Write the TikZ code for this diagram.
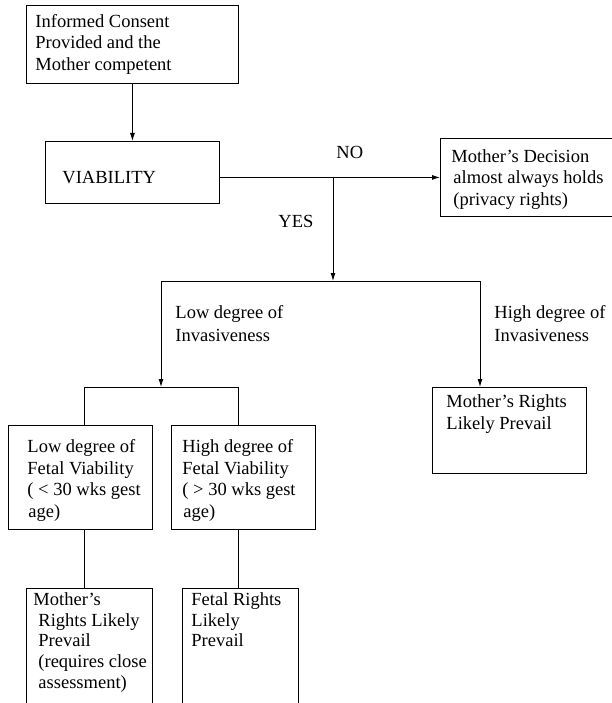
\documentclass[tikz,border=0pt]{standalone}
\usepackage{fontspec}
\setmainfont{Liberation Serif}
\usetikzlibrary{arrows.meta}
% width, height, left pad, top gap, text
\newcommand{\boxtext}[5]{\parbox[t][#2pt][t]{#1pt}{\raggedright\leftskip=#3pt\relax\vspace*{#4pt}\strut#5}}
\begin{document}
\begin{tikzpicture}[x=1pt, y=-1pt, line width=0.9pt,
    every node/.style={font=\fontsize{18.5}{21.5}\selectfont},
    box/.style={draw, anchor=north west, inner sep=0pt},
    lbl/.style={anchor=base west, inner sep=0pt},
    arr/.style={-{Latex[length=8pt,width=5pt]}}]
  \useasboundingbox (0,0) rectangle (611,703);
  % boxes
  \node[box] (consent) at (26,5) {\boxtext{212}{78}{9}{7}{Informed Consent\\Provided and the\\Mother competent}};
  \node[box] (via) at (45,141) {\boxtext{174}{62}{17}{27}{VIABILITY}};
  \node[box] (dec) at (440,138) {\boxtext{172}{78}{11}{9}{Mother’s Decision\\\hspace*{2pt}almost always holds\\\hspace*{2pt}(privacy rights)}};
  \node[box] (mrights) at (432,387) {\boxtext{154}{86}{14}{5}{Mother’s Rights\\Likely Prevail}};
  \node[box] (lowfv) at (8,425) {\boxtext{144}{104}{19}{12}{Low degree of\\Fetal Viability\\( < 30 wks gest\\\hspace*{1pt}age)}};
  \node[box] (highfv) at (171,425) {\boxtext{144}{104}{11}{12}{High degree of\\Fetal Viability\\( > 30 wks gest\\\hspace*{1pt}age)}};
  \node[box, font=\fontsize{18.5}{20.75}\selectfont] (mrights2) at (26,588)
    {\boxtext{126}{120}{12}{2.5}{\hspace*{-5pt}Mother’s\\Rights Likely\\Prevail\\(requires close\\assessment)}};
  \node[box, font=\fontsize{18.5}{20.75}\selectfont] (fetal) at (182,588)
    {\boxtext{116}{120}{9}{2.5}{Fetal Rights\\Likely\\Prevail}};
  % labels
  \node[lbl] (no) at (336,159) {NO};
  \node[lbl] (yes) at (278,227) {YES};
  \node[lbl] (lowinvlbl) at (175,318) {\parbox[t]{130pt}{\baselineskip=23.5pt Low degree of\\Invasiveness}};
  \node[lbl] (highinvlbl) at (494,318) {\parbox[t]{130pt}{\baselineskip=23.5pt High degree of\\Invasiveness}};
  % connectors
  \coordinate (split) at (333,177);
  \coordinate (fork) at (333,281);
  \coordinate (lowinv) at (161,281);
  \coordinate (highinv) at (480,281);
  \coordinate (fvbar) at (161,387);
  \coordinate (lowbar) at (84,387);
  \coordinate (highbar) at (238,387);
  \draw[arr] (consent.south) -- (via.north);
  \draw[arr] (via.east |- dec.west) -- (dec.west);
  \draw[arr] (split) -- (fork);
  \draw (lowinv) -- (highinv);
  \draw[arr] (highinv) -- (highinv |- mrights.north);
  \draw[arr] (lowinv) -- (fvbar);
  \draw (lowbar) -- (highbar);
  \draw (lowbar) -- (lowbar |- lowfv.north);
  \draw (highbar) -- (highbar |- highfv.north);
  \draw (lowbar |- lowfv.south) -- (lowbar |- mrights2.north);
  \draw (highbar |- highfv.south) -- (highbar |- fetal.north);
\end{tikzpicture}
\end{document}
